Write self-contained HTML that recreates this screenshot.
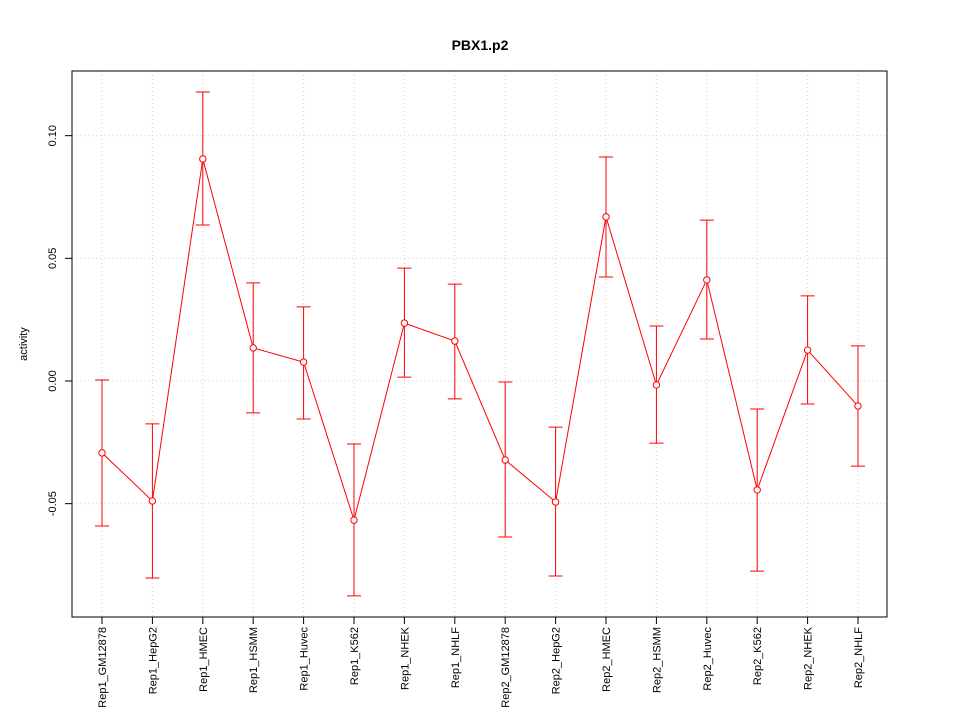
<!DOCTYPE html>
<html><head><meta charset="utf-8"><style>body{margin:0;background:#fff}svg{display:block;font-family:"Liberation Sans",sans-serif}</style></head>
<body>
<svg id="chart" width="960" height="720" xmlns="http://www.w3.org/2000/svg">
<rect width="960" height="720" fill="#fff"/>
<text x="480" y="50" text-anchor="middle" font-size="14" font-weight="bold">PBX1.p2</text>
<text transform="translate(27,344) rotate(-90)" text-anchor="middle" font-size="11">activity</text>
<g id="grid"></g><g id="axes"></g><g id="marks"></g>
<rect x="72" y="71" width="815" height="546" fill="none" stroke="#000"/>
</svg>
<script>
const categories=["Rep1_GM12878","Rep1_HepG2","Rep1_HMEC","Rep1_HSMM","Rep1_Huvec","Rep1_K562","Rep1_NHEK","Rep1_NHLF","Rep2_GM12878","Rep2_HepG2","Rep2_HMEC","Rep2_HSMM","Rep2_Huvec","Rep2_K562","Rep2_NHEK","Rep2_NHLF"];
const values=[-0.0293,-0.0489,0.0905,0.0135,0.0077,-0.0567,0.0236,0.0163,-0.0322,-0.0493,0.0669,-0.0016,0.0412,-0.0444,0.0126,-0.0102];
const upper=[0.0004,-0.0175,0.1178,0.0400,0.0302,-0.0257,0.0460,0.0395,-0.0004,-0.0188,0.0913,0.0224,0.0656,-0.0114,0.0347,0.0143];
const lower=[-0.0591,-0.0803,0.0636,-0.0130,-0.0155,-0.0876,0.0016,-0.0073,-0.0636,-0.0795,0.0424,-0.0253,0.0171,-0.0775,-0.0094,-0.0347];
const yTicks=[-0.05,0.00,0.05,0.10];
const yTickLabels=["-0.05","0.00","0.05","0.10"];
const NS="http://www.w3.org/2000/svg";
const y=v=>381-v*2453.3;
const x=i=>102+i*(756/(categories.length-1));
function mk(tag,attrs,parent){const e=document.createElementNS(NS,tag);for(const k in attrs)e.setAttribute(k,attrs[k]);document.getElementById(parent).appendChild(e);return e;}
yTicks.forEach((t,i)=>{
 let g=mk('line',{x1:72,x2:887,y1:y(t),y2:y(t),stroke:'#d3d3d3','stroke-dasharray':'1,3'},'grid');
 
 
 let tk=mk('line',{x1:65,x2:72,y1:y(t),y2:y(t),stroke:'#000'},'axes');
 
 
 let tl=mk('text',{transform:`translate(56,${y(t)}) rotate(-90)`,'text-anchor':'middle','font-size':'11'},'axes');
 tl.textContent=yTickLabels[i];
 
 
});
categories.forEach((c,i)=>{
 let g=mk('line',{x1:x(i),x2:x(i),y1:71,y2:617,stroke:'#d3d3d3','stroke-dasharray':'1,3'},'grid');
 
 
 let tk=mk('line',{x1:x(i),x2:x(i),y1:617,y2:624,stroke:'#000'},'axes');
 
 
 let tl=mk('text',{transform:`translate(${x(i)+4},627) rotate(-90)`,'text-anchor':'end','font-size':'11'},'axes');
 tl.textContent=c;
 
 
});
let pts=values.map((v,i)=>x(i)+','+y(v)).join(' ');
let pl=mk('polyline',{points:pts,fill:'none',stroke:'#f00'},'marks');


values.forEach((v,i)=>{
 let e=mk('path',{d:`M${x(i)},${y(upper[i])}V${y(lower[i])}M${x(i)-7},${y(upper[i])}H${x(i)+7}M${x(i)-7},${y(lower[i])}H${x(i)+7}`,stroke:'#f00',fill:'none'},'marks');
 
 
 let p=mk('circle',{cx:x(i),cy:y(v),r:3.2,fill:'#fff',stroke:'#f00'},'marks');
 
 
});
</script>
</body></html>
